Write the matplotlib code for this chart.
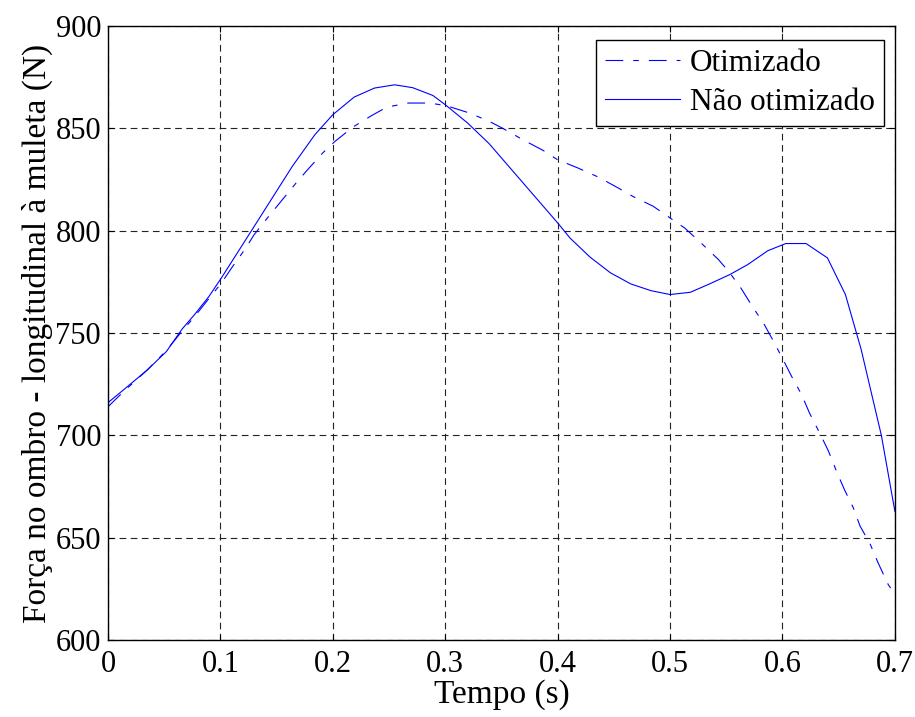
import matplotlib
matplotlib.use("Agg")
import matplotlib.pyplot as plt

plt.rcParams.update({
    "font.family": "Liberation Serif",
    "font.size": 22,
    "xtick.direction": "in", "ytick.direction": "in",
    "xtick.top": True, "ytick.right": True,
})

# Não otimizado (solid)
t_base = [0.0, 0.015, 0.035, 0.052, 0.066, 0.077, 0.090, 0.101, 0.130, 0.147,
          0.164, 0.184, 0.200, 0.219, 0.237, 0.255, 0.271, 0.289, 0.300, 0.320,
          0.339, 0.400, 0.411, 0.429, 0.447, 0.465, 0.483, 0.500, 0.518, 0.534,
          0.553, 0.569, 0.587, 0.603, 0.621, 0.640, 0.656, 0.670, 0.688, 0.700]
f_base = [716, 722.8, 732, 741, 752, 759, 768, 777, 802, 816.7,
          831.4, 846.8, 856.6, 865.2, 869.6, 871.2, 869.8, 866, 861.5, 852.5,
          842.5, 803.8, 796.4, 787, 779.4, 774, 770.7, 768.8, 769.9, 773.7,
          778.5, 783.4, 790.2, 793.7, 793.7, 786.7, 768.8, 742, 700, 663]

# Otimizado (dash-dot)
t_opt = [0.0, 0.015, 0.035, 0.052, 0.066, 0.077, 0.090, 0.101, 0.111, 0.122,
         0.130, 0.143, 0.155, 0.168, 0.178, 0.191, 0.202, 0.218, 0.234, 0.248,
         0.267, 0.286, 0.301, 0.320, 0.338, 0.351, 0.369, 0.387, 0.400, 0.418,
         0.436, 0.454, 0.467, 0.485, 0.500, 0.513, 0.526, 0.543, 0.552, 0.563,
         0.574, 0.583, 0.592, 0.599, 0.608, 0.617, 0.624, 0.633, 0.641, 0.648,
         0.655, 0.663, 0.669, 0.678, 0.685, 0.694, 0.698]
f_opt = [714, 722, 732, 741.5, 751, 758, 767, 774.5, 782.6, 791,
         798, 807, 815, 823.7, 830, 837.9, 843.6, 850.6, 856, 860.3,
         862.3, 862.3, 861, 857.7, 853.7, 850, 844.4, 839.2, 834.6, 830.6,
         826.2, 820.8, 816.7, 811.9, 806.2, 801.3, 794.8, 785.9, 780.2, 772,
         762.3, 755, 746, 738.7, 729, 720, 711, 701.3, 692.3, 682.6,
         673.7, 664.7, 655.8, 647, 637.9, 627.3, 624]

x_ticks = [0, 0.1, 0.2, 0.3, 0.4, 0.5, 0.6, 0.7]
x_labels = ["0", "0.1", "0.2", "0.3", "0.4", "0.5", "0.6", "0.7"]
y_ticks = [600, 650, 700, 750, 800, 850, 900]

fig = plt.figure(figsize=(9.15, 7.17), dpi=100)
ax = fig.add_axes([0.118, 0.107, 0.860, 0.857])

ax.plot(t_opt, f_opt, color="#0000ff", lw=0.8, dashes=(16, 9, 5, 9),
        label="Otimizado")
ax.plot(t_base, f_base, color="#0000ff", lw=0.8, label="Não otimizado")

ax.set_xlim(0, 0.7)
ax.set_ylim(600, 900)
ax.set_xticks(x_ticks)
ax.set_xticklabels(x_labels)
ax.set_yticks(y_ticks)
ax.grid(True, color="#222222", linestyle=(0, (6, 4)), linewidth=0.8)
ax.tick_params(length=4, width=0.8)
ax.tick_params(axis="x", pad=7)
ax.tick_params(axis="y", pad=5)
for s in ax.spines.values():
    s.set_linewidth(1.0)

ax.set_xlabel("Tempo (s)", fontsize=24, labelpad=0)
ax.set_ylabel("Força no ombro - longitudinal à muleta (N)", fontsize=24,
              labelpad=2)

leg = ax.legend(loc="upper right", bbox_to_anchor=(0.986, 0.977),
                fancybox=False, framealpha=1, edgecolor="black",
                fontsize=22.5, handlelength=2.4, handletextpad=0.3,
                borderpad=0.3, labelspacing=0.3, borderaxespad=0)
leg.get_frame().set_linewidth(1.0)

fig.savefig("out.png", dpi=100)
